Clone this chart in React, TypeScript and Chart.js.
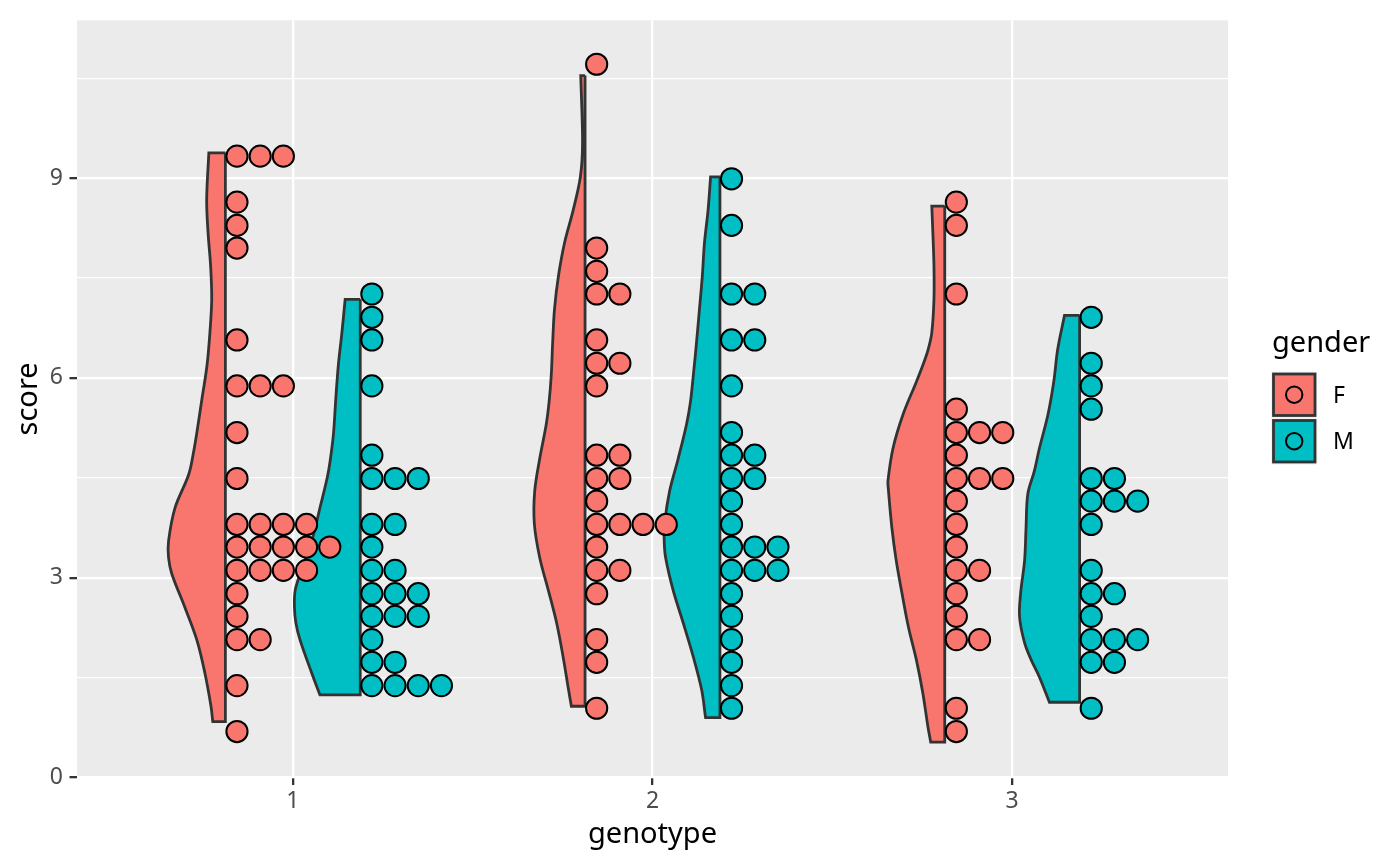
import { useEffect, useRef } from "react"
import { Chart, registerables } from "chart.js"

Chart.register(...registerables)

const genotypes = ["1", "2", "3"]
const genders = ["F", "M"]
const genderColors = ["#F8766D", "#00BFC4"]

const yMajorTicks = [0, 3, 6, 9]
const yMinorTicks = [1.5, 4.5, 7.5, 10.5]

// half violins: score down the outline and the width (x units) at that score
const violinF1Y = [9.38, 8.67, 8.17, 7.68, 7.18, 6.68, 6.19, 5.69, 5.19, 4.9, 4.55, 4.05, 3.55, 3.3, 3.06, 2.56, 2.06, 1.57, 1.07, 0.84]
const violinF1W = [0.046, 0.052, 0.048, 0.041, 0.038, 0.043, 0.051, 0.065, 0.079, 0.088, 0.102, 0.14, 0.158, 0.158, 0.149, 0.113, 0.079, 0.057, 0.04, 0.035]
const violinM1Y = [7.18, 6.68, 6.19, 5.69, 5.19, 4.9, 4.55, 4.05, 3.55, 3.06, 2.81, 2.56, 2.32, 2.06, 1.57, 1.24]
const violinM1W = [0.042, 0.051, 0.061, 0.068, 0.074, 0.08, 0.09, 0.112, 0.135, 0.167, 0.181, 0.183, 0.179, 0.167, 0.135, 0.112]
const violinF2Y = [10.54, 9.52, 9.02, 8.52, 8.03, 7.53, 7.03, 6.54, 6.04, 5.64, 5.3, 4.79, 4.3, 3.81, 3.3, 2.81, 2.32, 1.81, 1.32, 1.07]
const violinF2W = [0.012, 0.007, 0.013, 0.033, 0.057, 0.074, 0.085, 0.09, 0.094, 0.1, 0.108, 0.126, 0.14, 0.141, 0.126, 0.102, 0.079, 0.061, 0.046, 0.038]
const violinM2Y = [9.02, 8.52, 8.03, 7.53, 7.03, 6.54, 6.04, 5.64, 5.3, 4.79, 4.3, 3.81, 3.55, 3.3, 2.81, 2.32, 1.81, 1.32, 0.9]
const violinM2W = [0.026, 0.033, 0.043, 0.049, 0.057, 0.065, 0.074, 0.082, 0.093, 0.116, 0.14, 0.154, 0.155, 0.151, 0.13, 0.102, 0.074, 0.051, 0.04]
const violinF3Y = [8.58, 8.17, 7.68, 7.18, 6.68, 6.43, 6.19, 5.94, 5.45, 4.94, 4.45, 4.34, 3.75, 3.26, 2.77, 2.26, 1.77, 1.27, 0.77, 0.53]
const violinF3W = [0.036, 0.033, 0.03, 0.03, 0.036, 0.046, 0.061, 0.079, 0.116, 0.144, 0.158, 0.157, 0.147, 0.135, 0.119, 0.101, 0.079, 0.061, 0.047, 0.039]
const violinM3Y = [6.94, 6.43, 5.94, 5.45, 4.94, 4.6, 4.26, 3.75, 3.26, 2.77, 2.41, 2.02, 1.77, 1.51, 1.13]
const violinM3W = [0.042, 0.061, 0.072, 0.088, 0.112, 0.126, 0.144, 0.149, 0.153, 0.164, 0.167, 0.153, 0.135, 0.112, 0.084]

// dot plot rows: score of the row and how many dots are stacked in it
const dotsF1Y = [9.33, 8.64, 8.29, 7.95, 6.57, 5.88, 5.18, 4.49, 3.8, 3.46, 3.11, 2.76, 2.42, 2.07, 1.38, 0.69]
const dotsF1N = [3, 1, 1, 1, 1, 3, 1, 1, 4, 5, 4, 1, 1, 2, 1, 1]
const dotsM1Y = [7.26, 6.91, 6.57, 5.88, 4.84, 4.49, 3.8, 3.46, 3.11, 2.76, 2.42, 2.07, 1.73, 1.38]
const dotsM1N = [1, 1, 1, 1, 1, 3, 2, 1, 2, 3, 3, 1, 2, 4]
const dotsF2Y = [10.71, 7.95, 7.6, 7.26, 6.57, 6.22, 5.88, 4.84, 4.49, 4.15, 3.8, 3.46, 3.11, 2.76, 2.07, 1.73, 1.04]
const dotsF2N = [1, 1, 1, 2, 1, 2, 1, 2, 2, 1, 4, 1, 2, 1, 1, 1, 1]
const dotsM2Y = [8.99, 8.29, 7.26, 6.57, 5.88, 5.18, 4.84, 4.49, 4.15, 3.8, 3.46, 3.11, 2.76, 2.42, 2.07, 1.73, 1.38, 1.04]
const dotsM2N = [1, 1, 2, 2, 1, 1, 2, 2, 1, 1, 3, 3, 1, 1, 1, 1, 1, 1]
const dotsF3Y = [8.64, 8.29, 7.26, 5.53, 5.18, 4.84, 4.49, 4.15, 3.8, 3.46, 3.11, 2.76, 2.42, 2.07, 1.04, 0.69]
const dotsF3N = [1, 1, 1, 1, 3, 1, 3, 1, 1, 1, 2, 1, 1, 2, 1, 1]
const dotsM3Y = [6.91, 6.22, 5.88, 5.53, 4.49, 4.15, 3.8, 3.11, 2.76, 2.42, 2.07, 1.73, 1.04]
const dotsM3N = [1, 1, 1, 1, 2, 3, 1, 1, 2, 1, 3, 2, 1]

const DODGE = 0.1875
const DOT_STEP = 0.0645
const FONT = '"Noto Sans", "Open Sans", sans-serif'

const groups = [
  { g: 1, s: 0, vy: violinF1Y, vw: violinF1W, dy: dotsF1Y, dn: dotsF1N },
  { g: 1, s: 1, vy: violinM1Y, vw: violinM1W, dy: dotsM1Y, dn: dotsM1N },
  { g: 2, s: 0, vy: violinF2Y, vw: violinF2W, dy: dotsF2Y, dn: dotsF2N },
  { g: 2, s: 1, vy: violinM2Y, vw: violinM2W, dy: dotsM2Y, dn: dotsM2N },
  { g: 3, s: 0, vy: violinF3Y, vw: violinF3W, dy: dotsF3Y, dn: dotsF3N },
  { g: 3, s: 1, vy: violinM3Y, vw: violinM3W, dy: dotsM3Y, dn: dotsM3N },
]

function edgeOf(g: number, s: number) {
  return g + (s === 0 ? -DODGE : DODGE)
}

// corners are listed twice so the spline keeps the flat edges straight
function violinPoints(g: number, s: number, ys: number[], ws: number[]) {
  const edge = edgeOf(g, s)
  const last = ys.length - 1
  const pts = [{ x: edge, y: ys[0] }]
  ys.forEach((y, i) => {
    pts.push({ x: edge - ws[i], y })
    if (i === 0 || i === last) pts.push({ x: edge - ws[i], y })
  })
  pts.push({ x: edge, y: ys[last] })
  pts.push({ x: edge, y: ys[last] })
  pts.push({ x: edge, y: ys[0] })
  return pts
}

function dotPoints(g: number, s: number, ys: number[], ns: number[]) {
  const edge = edgeOf(g, s)
  const pts: { x: number; y: number }[] = []
  ys.forEach((y, i) => {
    for (let k = 0; k < ns[i]; k++) pts.push({ x: edge + DOT_STEP / 2 + k * DOT_STEP, y })
  })
  return pts
}

const decorPlugin = {
  id: "decor",
  beforeDraw(chart: Chart) {
    const { ctx, chartArea: a } = chart
    ctx.save()
    ctx.fillStyle = "#FFFFFF"
    ctx.fillRect(0, 0, chart.width, chart.height)
    ctx.fillStyle = "#EBEBEB"
    ctx.fillRect(a.left, a.top, a.right - a.left, a.bottom - a.top)
    ctx.restore()
  },
  afterDraw(chart: Chart) {
    const { ctx, chartArea: a } = chart
    ctx.save()
    ctx.fillStyle = "#000000"
    ctx.font = `29px ${FONT}`
    ctx.textBaseline = "alphabetic"
    ctx.textAlign = "center"
    ctx.fillText("genotype", (a.left + a.right) / 2, 843)
    ctx.save()
    ctx.translate(37, (a.top + a.bottom) / 2)
    ctx.rotate(-Math.PI / 2)
    ctx.fillText("score", 0, 0)
    ctx.restore()

    // legend
    ctx.textAlign = "left"
    ctx.fillText("gender", 1272, 352)
    genders.forEach((label, i) => {
      const top = 371.5 + i * 46.5
      ctx.fillStyle = "#F2F2F2"
      ctx.fillRect(1271, top, 46.5, 46.5)
      ctx.fillStyle = genderColors[i]
      ctx.fillRect(1273.5, top + 2.5, 41.5, 41.5)
      ctx.strokeStyle = "#333333"
      ctx.lineWidth = 2.8
      ctx.strokeRect(1273.5, top + 2.5, 41.5, 41.5)
      ctx.beginPath()
      ctx.arc(1294.2, top + 23.2, 8.2, 0, Math.PI * 2)
      ctx.fillStyle = genderColors[i]
      ctx.fill()
      ctx.strokeStyle = "#000000"
      ctx.lineWidth = 2
      ctx.stroke()
      ctx.fillStyle = "#000000"
      ctx.font = `23px ${FONT}`
      ctx.fillText(label, 1333, top + 23.2 + 8.2)
    })
    ctx.restore()
  },
}

export default function App() {
  const chartRef = useRef<HTMLCanvasElement>(null)
  const chartInstance = useRef<Chart | null>(null)

  useEffect(() => {
    if (!chartRef.current) return
    document.body.style.margin = "0"

    if (chartInstance.current) {
      chartInstance.current.destroy()
    }

    const ctx = chartRef.current.getContext("2d")
    if (!ctx) return

    const dotSets = groups.map((d) => ({
      type: "scatter" as const,
      label: genders[d.s] + " dots " + d.g,
      data: dotPoints(d.g, d.s, d.dy, d.dn),
      order: 0,
      pointRadius: 10.6,
      pointBorderWidth: 2,
      pointBackgroundColor: genderColors[d.s],
      pointBorderColor: "#000000",
      showLine: false,
    }))

    const violinSets = groups.map((d) => ({
      type: "scatter" as const,
      label: genders[d.s] + " violin " + d.g,
      data: violinPoints(d.g, d.s, d.vy, d.vw),
      order: 1,
      showLine: true,
      fill: "shape",
      tension: 0.35,
      backgroundColor: genderColors[d.s],
      borderColor: "#333333",
      borderWidth: 2.8,
      borderJoinStyle: "miter" as const,
      pointRadius: 0,
    }))

    const isMajor = (v: number) => yMajorTicks.includes(v)

    chartInstance.current = new Chart(ctx, {
      type: "scatter",
      data: { datasets: [...dotSets, ...violinSets] as any },
      options: {
        animation: false,
        responsive: false,
        events: [],
        layout: { padding: { left: 0, right: 172, top: 15, bottom: 0 } },
        plugins: {
          legend: { display: false },
          tooltip: { enabled: false },
        },
        scales: {
          x: {
            type: "linear",
            min: 0.4,
            max: 3.6,
            afterBuildTicks: (scale: any) => {
              scale.ticks = genotypes.map((_, i) => ({ value: i + 1 }))
            },
            afterFit: (scale: any) => {
              scale.height = 87.5
            },
            border: { display: false },
            grid: {
              color: "#FFFFFF",
              lineWidth: 2.3,
              tickColor: "#333333",
              tickLength: 7.5,
              tickWidth: 2.3,
            },
            ticks: {
              autoSkip: false,
              maxRotation: 0,
              padding: 3,
              color: "#4D4D4D",
              font: { family: FONT, size: 23 },
              callback: (v: any) => genotypes[Math.round(Number(v)) - 1] ?? "",
            },
          },
          y: {
            type: "linear",
            min: 0,
            max: 11.37,
            afterBuildTicks: (scale: any) => {
              scale.ticks = [...yMajorTicks, ...yMinorTicks]
                .sort((p, q) => p - q)
                .map((v) => ({ value: v }))
            },
            afterFit: (scale: any) => {
              scale.width = 77
            },
            border: { display: false },
            grid: {
              color: "#FFFFFF",
              lineWidth: (c: any) => (isMajor(c.tick?.value) ? 2.3 : 1.15),
              tickColor: (c: any) => (isMajor(c.tick?.value) ? "#333333" : "rgba(0,0,0,0)"),
              tickLength: 7.5,
              tickWidth: 2.3,
            },
            ticks: {
              autoSkip: false,
              padding: 6.5,
              color: "#4D4D4D",
              font: { family: FONT, size: 23 },
              callback: (v: any) => (isMajor(Number(v)) ? String(v) : ""),
            },
          },
        },
      },
      plugins: [decorPlugin],
    })

    return () => {
      if (chartInstance.current) {
        chartInstance.current.destroy()
        chartInstance.current = null
      }
    }
  }, [])

  return (
    <div style={{ width: 1400, height: 865 }}>
      <canvas ref={chartRef} width={1400} height={865} style={{ display: "block" }} />
    </div>
  )
}
